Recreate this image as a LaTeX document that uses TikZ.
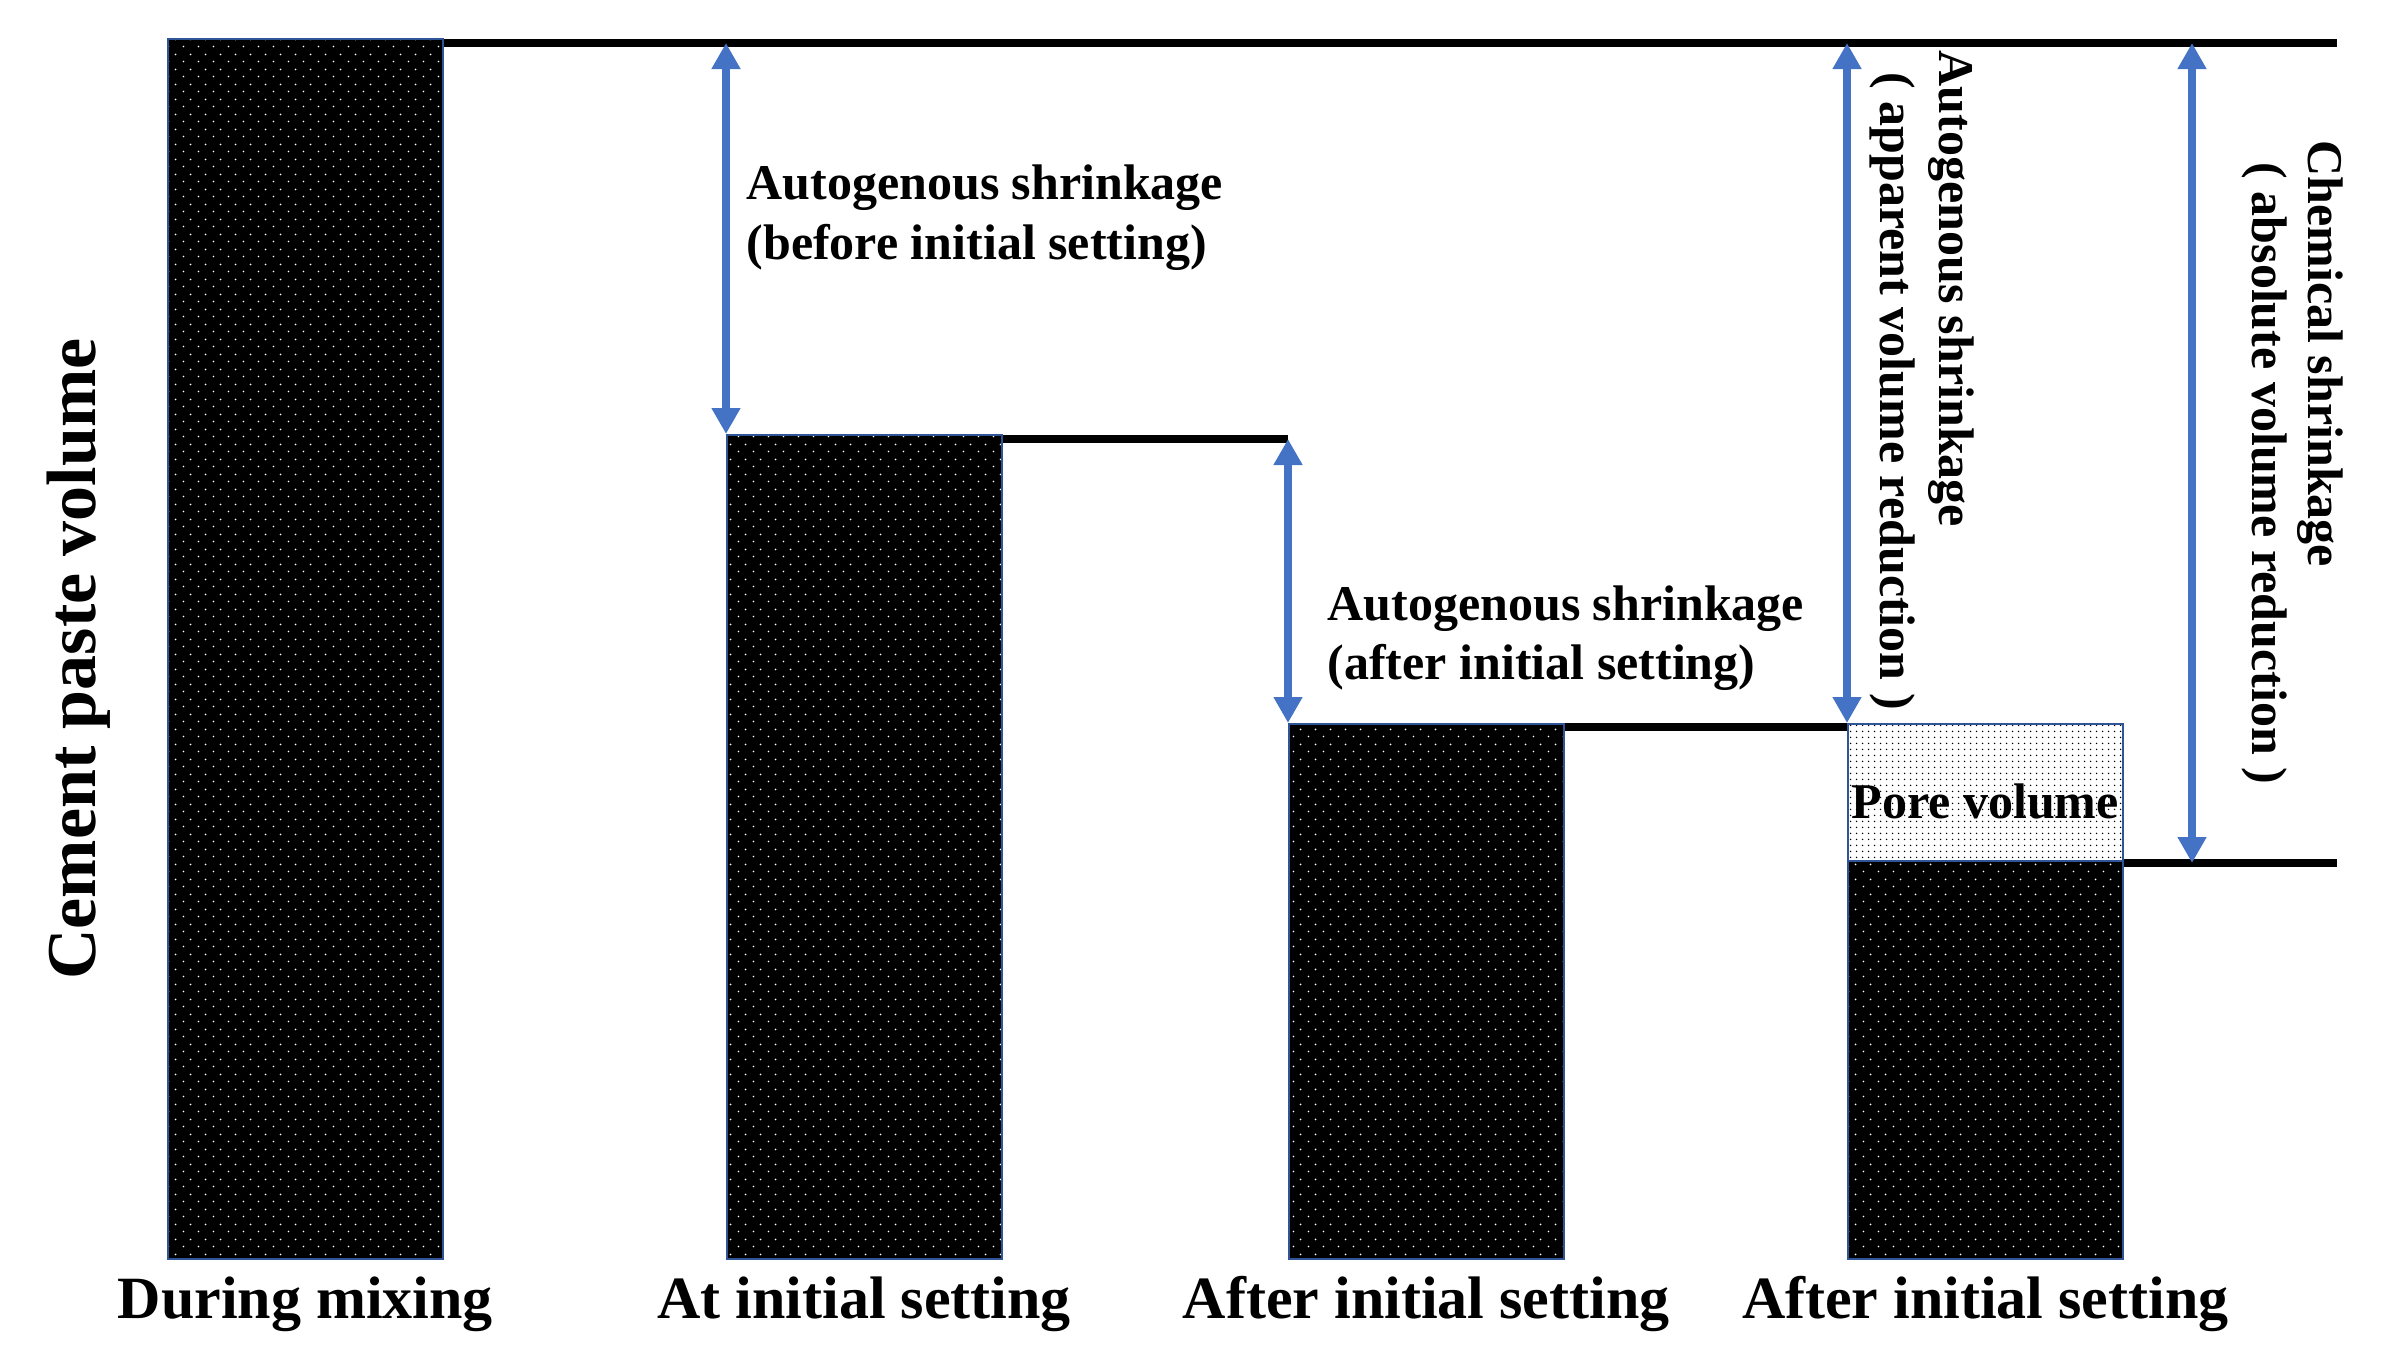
\documentclass[tikz,border=0pt]{standalone}
\usepackage{fontspec}
\setmainfont{Liberation Serif}
\usetikzlibrary{arrows.meta,patterns.meta}
\definecolor{arrblue}{HTML}{4472C4}
\definecolor{edgeblue}{HTML}{2F5597}
\tikzdeclarepattern{
  name=bardots,
  type=uncolored,
  bounding box={(0pt,0pt) and (4.5pt,4.5pt)},
  tile size={(4.5pt,4.5pt)},
  code={
    \pgfpathcircle{\pgfpoint{1.125pt}{1.125pt}}{0.3pt}
    \pgfpathcircle{\pgfpoint{3.375pt}{3.375pt}}{0.3pt}
    \pgfusepath{fill}
  }
}
\tikzdeclarepattern{
  name=poredots,
  type=uncolored,
  bounding box={(0pt,0pt) and (1.8pt,1.8pt)},
  tile size={(1.8pt,1.8pt)},
  code={
    \pgfpathcircle{\pgfpoint{0.9pt}{0.9pt}}{0.28pt}
    \pgfusepath{fill}
  }
}
\begin{document}
\begin{tikzpicture}[x=0.3pt,y=-0.3pt,
  bar/.style={draw=edgeblue, line width=0.45pt, preaction={fill=black}, pattern=bardots, pattern color=white, inner sep=0pt, anchor=north west},
  porebox/.style={draw=edgeblue, line width=0.45pt, preaction={fill=white}, pattern=poredots, pattern color=black, inner sep=0pt, anchor=north west},
  level/.style={line width=2.4pt, draw=black},
  dim/.style={draw=arrblue, line width=2.5pt, {Triangle[width=8.2pt,length=7.8pt]}-{Triangle[width=8.2pt,length=7.8pt]}},
  lbl/.style={font=\bfseries\fontsize{15}{18}\selectfont, inner sep=0pt},
  cat/.style={font=\bfseries\fontsize{18}{21}\selectfont, inner sep=0pt, anchor=base},
]
\useasboundingbox (0,0) rectangle (2386,1369);
% bars
\node[bar, minimum width=82.5pt, minimum height=366pt] (b1) at (167,38) {};
\node[bar, minimum width=82.5pt, minimum height=247.2pt] (b2) at (726,434) {};
\node[bar, minimum width=82.5pt, minimum height=160.5pt] (b3) at (1288,723) {};
\node[porebox, minimum width=82.5pt, minimum height=41.1pt] (pv) at (1847,723) {};
\node[bar, minimum width=82.5pt, minimum height=119.4pt] (b4) at (1847,860) {};
% level lines
\coordinate (L1) at (2337,43);
\coordinate (L2) at (1288,439);
\coordinate (L3) at (1847,727);
\coordinate (L4) at (2337,863);
\coordinate (C4) at (2192,43);
\coordinate (C4b) at (2192,863);
\draw[level] (b1.north east |- L1) -- (L1);
\draw[level] (b2.north east |- L2) -- (L2);
\draw[level] (b3.north east |- L3) -- (L3);
\draw[level] (b4.north east |- L4) -- (L4);
% dimension arrows
\draw[dim] (b2.north west |- L1) -- (b2.north west);
\draw[dim] (L2) -- (b3.north west);
\draw[dim] (pv.north west |- L1) -- (pv.north west);
\draw[dim] (C4) -- (C4b);
% labels
\node[lbl, anchor=base west] (t1a) at (746,199) {Autogenous shrinkage};
\node[lbl, anchor=base west] (t1b) at (746,259) {(before initial setting)};
\node[lbl, anchor=base west] (t2a) at (1327,620) {Autogenous shrinkage};
\node[lbl, anchor=base west] (t2b) at (1327,679) {(after initial setting)};
\node[lbl, anchor=base west, rotate=-90] (r1a) at (1939,50) {Autogenous shrinkage};
\node[lbl, anchor=base west, rotate=-90] (r1b) at (1880,72) {( apparent volume reduction )};
\node[lbl, anchor=base west, rotate=-90] (r2a) at (2308,140) {Chemical shrinkage};
\node[lbl, anchor=base west, rotate=-90] (r2b) at (2252,162) {( absolute volume reduction )};
\coordinate (pvb) at (0,818);
\node[lbl, anchor=base] (pvt) at (pv.center |- pvb) {Pore volume};
\node[font=\bfseries\fontsize{21}{24}\selectfont, inner sep=0pt, anchor=base, rotate=90] (yl) at (95,659) {Cement paste volume};
\coordinate (cb) at (0,1318);
\node[cat] (c1) at (b1.south |- cb) {During mixing};
\node[cat] (c2) at (b2.south |- cb) {At initial setting};
\node[cat] (c3) at (b3.south |- cb) {After initial setting};
\node[cat] (c4) at (b4.south |- cb) {After initial setting};
\end{tikzpicture}
\end{document}
